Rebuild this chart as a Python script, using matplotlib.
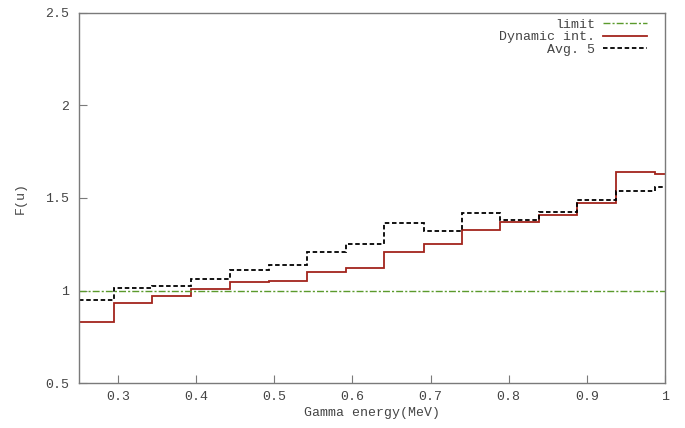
import matplotlib
matplotlib.use('Agg')
import matplotlib.pyplot as plt
import matplotlib.ticker as ticker

# Bin edges of the energy grid (MeV) and the F(u) value in each bin
edges = [0.25, 0.295, 0.344, 0.394, 0.443, 0.493, 0.542, 0.592, 0.641,
         0.691, 0.740, 0.789, 0.839, 0.888, 0.937, 0.987, 1.0]
dynamic_int = [0.832, 0.930, 0.973, 1.006, 1.044, 1.049, 1.098, 1.123,
               1.208, 1.253, 1.327, 1.370, 1.406, 1.473, 1.639, 1.630]
avg_5 = [0.948, 1.013, 1.025, 1.063, 1.110, 1.139, 1.208, 1.249,
         1.366, 1.323, 1.417, 1.379, 1.426, 1.489, 1.540, 1.558]
limit = 1.0

x_ticks = [0.3, 0.4, 0.5, 0.6, 0.7, 0.8, 0.9, 1.0]
y_ticks = [0.5, 1.0, 1.5, 2.0, 2.5]

plt.rcParams['font.family'] = ['Liberation Mono', 'DejaVu Sans Mono']
text_color = '#444444'
frame_color = '#7a7a7a'
fsize = 9.5

fig = plt.figure(figsize=(6.85, 4.28), dpi=100)
ax = fig.add_axes([0.1153, 0.105, 0.8555, 0.865])

ax.axhline(limit, color='#5b9a2c', lw=1.0, dashes=(5, 1.5, 1.5, 1.5),
           label='limit')
ax.stairs(dynamic_int, edges, baseline=None, color='#a3241c', lw=1.3,
          label='Dynamic int.')
ax.stairs(avg_5, edges, baseline=None, color='black', lw=1.3,
          linestyle=(0, (2.5, 1.5)), label='Avg. 5')

ax.set_xlim(0.25, 1.0)
ax.set_ylim(0.5, 2.5)
ax.set_xticks(x_ticks)
ax.set_yticks(y_ticks)
ax.xaxis.set_major_formatter(ticker.FormatStrFormatter('%g'))
ax.yaxis.set_major_formatter(ticker.FormatStrFormatter('%g'))

ax.tick_params(direction='in', length=6, width=0.8, color=frame_color,
               labelcolor=text_color, labelsize=fsize)
ax.tick_params(axis='x', pad=5.5)
ax.tick_params(axis='y', pad=7.2)
for side in ax.spines.values():
    side.set_color(frame_color)
    side.set_linewidth(1.0)

ax.set_xlabel('Gamma energy(MeV)', color=text_color, fontsize=fsize,
              labelpad=3)
ax.set_ylabel('F(u)', color=text_color, fontsize=fsize, labelpad=13)

leg = ax.legend(loc='upper right', frameon=False, markerfirst=False,
                fontsize=fsize, handlelength=3.3, labelspacing=0.0,
                handletextpad=0.6, borderaxespad=0.0,
                bbox_to_anchor=(0.978, 0.998))
for t in leg.get_texts():
    t.set_color(text_color)
    t.set_ha('right')

fig.savefig('out.png', dpi=100)
